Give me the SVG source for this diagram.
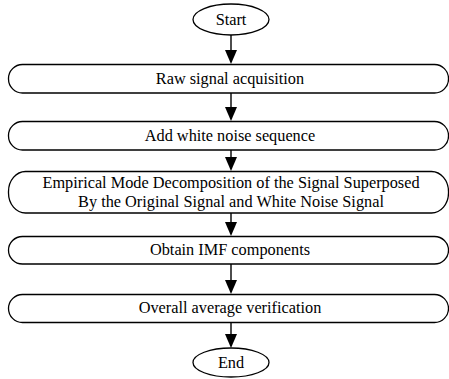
<svg xmlns="http://www.w3.org/2000/svg" width="449" height="379" viewBox="0 0 449 379">
  <defs>
    <style>
      .shape { fill: #fff; stroke: #000; stroke-width: 1.3; }
      .label { font-family: "Liberation Serif", "Times New Roman", serif; font-size: 16.3px; fill: #000; text-anchor: middle; }
      .conn { stroke: #000; stroke-width: 1.4; fill: none; }
      .head { fill: #000; }
    </style>
  </defs>
  <rect width="449" height="379" fill="#fff"/>

  <!-- vertical flow arrows between steps -->
  <g id="connectors">
    <line class="conn" x1="231" y1="35" x2="231" y2="50"/>
    <path class="head" d="M225,50 L237,50 L231,64 Z"/>
    <line class="conn" x1="231" y1="93" x2="231" y2="107"/>
    <path class="head" d="M225,107 L237,107 L231,121 Z"/>
    <line class="conn" x1="231" y1="150" x2="231" y2="157"/>
    <path class="head" d="M225,157 L237,157 L231,171 Z"/>
    <line class="conn" x1="231" y1="213" x2="231" y2="222"/>
    <path class="head" d="M225,222 L237,222 L231,236 Z"/>
    <line class="conn" x1="231" y1="264" x2="231" y2="280"/>
    <path class="head" d="M225,280 L237,280 L231,294 Z"/>
    <line class="conn" x1="231" y1="322" x2="231" y2="334"/>
    <path class="head" d="M225,334 L237,334 L231,348 Z"/>
  </g>

  <g id="start">
    <ellipse class="shape" cx="231" cy="19.5" rx="38" ry="15.5"/>
    <text class="label" x="231" y="25">Start</text>
  </g>

  <g id="raw-signal">
    <rect class="shape" x="8.5" y="64.5" width="440" height="28.5" rx="14" ry="14"/>
    <text class="label" x="230" y="84">Raw signal acquisition</text>
  </g>

  <g id="add-noise">
    <rect class="shape" x="8.5" y="121.5" width="440" height="28.5" rx="14" ry="14"/>
    <text class="label" x="230" y="141">Add white noise sequence</text>
  </g>

  <g id="emd">
    <rect class="shape" x="8.5" y="171.5" width="440" height="41.5" rx="17" ry="20"/>
    <text class="label" x="231" y="188">Empirical Mode Decomposition of the Signal Superposed</text>
    <text class="label" x="231" y="207">By the Original Signal and White Noise Signal</text>
  </g>

  <g id="imf">
    <rect class="shape" x="8.5" y="236.5" width="440" height="27.5" rx="14" ry="14"/>
    <text class="label" x="230" y="255">Obtain IMF components</text>
  </g>

  <g id="verify">
    <rect class="shape" x="8.5" y="294.5" width="440" height="28" rx="14" ry="14"/>
    <text class="label" x="230" y="313">Overall average verification</text>
  </g>

  <g id="end">
    <ellipse class="shape" cx="231" cy="362.5" rx="38" ry="14.5"/>
    <text class="label" x="231" y="368">End</text>
  </g>
</svg>
